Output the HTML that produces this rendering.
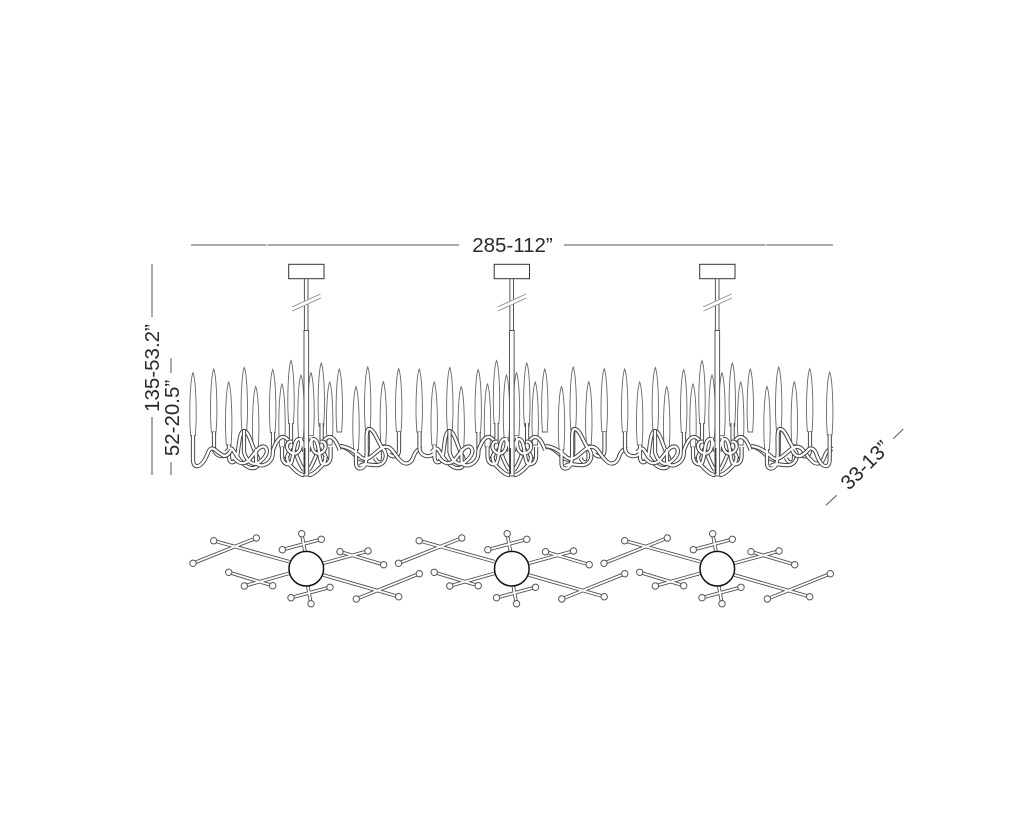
<!DOCTYPE html>
<html><head><meta charset="utf-8"><style>
html,body{margin:0;padding:0;background:#fff;width:1024px;height:819px;overflow:hidden}
svg{display:block}
text{font-family:"Liberation Sans",sans-serif;font-size:20.5px;fill:#2a2a2a}
</style></head><body>
<svg width="1024" height="819" viewBox="0 0 1024 819" xmlns="http://www.w3.org/2000/svg">
<defs>
<path id="fl" d="M0 0C-1.8 4-3.2 20-3.2 42C-3.2 52-2.6 58-2.400 63H2.400C2.600 58 3.200 52 3.200 42C3.200 20 1.800 4 0 0Z" fill="#fff" stroke="#666" stroke-width="0.9"/>

<path id="a" fill="none" d="M214 432V448C214 456 224 459 229 453M229 445V457C229 464 235 464 237 457C239 448 239 431 244 431C249 431 252 447 257 456C261 464 257 469 251 468C244 467 238 458 233 450C231 447 229 449 226 452"/>
<path id="b" fill="none" d="M244 430V452C246 460 252 466 258 463C264 459 270 452 265 447C259 444 254 455 248 461C243 465 238 463 234 458M256 449V460C256 466 262 467 268 463C273 459 273 455 273 448V432"/>
<path id="c" fill="none" d="M287 456C287 464 292 467 295 470C298 473 301 475 304 475M282 447V456C282 463 287 466 291 463C294 458 293 444 297 440C300 437 304 442 304 452M301 438V445C300 452 296 456 290 452C284 447 288 440 292 442"/>
<path id="d" fill="none" d="M273 450C276 442 279 437 283 437C288 437 292 446 296 454C299 462 302 468 304 470M291 423V440C291 450 287 458 284 462"/>
<path id="e" fill="none" d="M367.700 430V450C368 458 364 462 358 458C352 452 348 448 340 446M383 445V458C383 465 377 463 375 458M399 432V450C399 457 393 458 389 454"/>
<path id="f" fill="none" d="M356 449V463C356 470 362 470 365 465C369 456 364 429 369 429C375 429 378 444 384 450C388 456 385 464 378 465C370 466 365 462 360 466M340 446C350 447 356 453 362 458C370 462 376 450 384 447C392 445 394 455 400 460C404 465 410 465 413 458C415 452 417 449 422 449"/>

<g id="centerhalf">
<use href="#d" stroke="#404040" stroke-width="4.200"/><use href="#d" stroke="#fff" stroke-width="2.300"/>
<use href="#c" stroke="#404040" stroke-width="4.200"/><use href="#c" stroke="#fff" stroke-width="2.300"/>
</g>
<g id="tubes">
<use href="#e" stroke="#404040" stroke-width="4.200"/><use href="#e" stroke="#fff" stroke-width="2.300"/>
<use href="#f" stroke="#404040" stroke-width="4.200"/><use href="#f" stroke="#fff" stroke-width="2.300"/>
<use href="#a" stroke="#404040" stroke-width="4.200"/><use href="#a" stroke="#fff" stroke-width="2.300"/>
<use href="#b" stroke="#404040" stroke-width="4.200"/><use href="#b" stroke="#fff" stroke-width="2.300"/>
<use href="#centerhalf"/>
<use href="#centerhalf" transform="translate(612.600 0) scale(-1 1)"/>
</g>
<g id="flames">
<use href="#fl" x="213.700" y="369"/><use href="#fl" x="228.700" y="382"/><use href="#fl" x="244.300" y="367.500"/><use href="#fl" x="255.700" y="386.500"/><use href="#fl" x="272.700" y="369.500"/><use href="#fl" x="282" y="384"/><use href="#fl" x="291" y="360.500"/><use href="#fl" x="301" y="375"/><use href="#fl" x="311" y="372.700"/><use href="#fl" x="321.300" y="363"/><use href="#fl" x="329.700" y="382"/><use href="#fl" x="339.300" y="369"/><use href="#fl" x="356" y="386.500"/><use href="#fl" x="367.700" y="367"/><use href="#fl" x="383.300" y="381.700"/><use href="#fl" x="398.700" y="368.700"/>
</g>
<g id="stem">
<rect x="288.700" y="264.300" width="35.300" height="14.400" fill="#fff" stroke="#333" stroke-width="1"/>
<rect x="304.400" y="278.700" width="3.600" height="52" fill="#fff" stroke="#555" stroke-width="1"/>
<rect x="304" y="330.500" width="4.600" height="145.500" fill="#fff" stroke="#555" stroke-width="1"/>
<path d="M304.800 448V474" stroke="#333" stroke-width="1.200"/>
<path d="M292 306.500L320 293.500L321 298L293 311Z" fill="#fff"/>
<path d="M292 307L320.500 294M292.500 311L321 298" stroke="#888" stroke-width="0.900" fill="none"/>
</g>
<path id="arms" fill="none" d="M289.300 561.700L213.700 540.700M256.300 538L193 563.300M323.300 575L398.700 596.700M419.300 573.700L356.300 599M323.300 563.300L368 551M340 551.700L383.700 564.700M289.300 573.300L244.300 586M228.700 572.300L272.700 585.700M305 551.700L301.700 533.700M282.300 549.700L321.300 539.300M307.700 585.700L311 603.700M291 597.700L330 587.300"/>
<g id="top">
<use href="#arms" stroke="#505050" stroke-width="3.600"/>
<use href="#arms" stroke="#fff" stroke-width="1.800"/>
<g fill="#fff" stroke="#555" stroke-width="1">
<circle cx="213.700" cy="540.700" r="3.200"/><circle cx="256.300" cy="538" r="3.200"/><circle cx="193" cy="563.300" r="3.200"/><circle cx="398.700" cy="596.700" r="3.200"/><circle cx="419.300" cy="573.700" r="3.200"/><circle cx="356.300" cy="599" r="3.200"/><circle cx="368" cy="551" r="3.200"/><circle cx="340" cy="551.700" r="3.200"/><circle cx="383.700" cy="564.700" r="3.200"/><circle cx="244.300" cy="586" r="3.200"/><circle cx="228.700" cy="572.300" r="3.200"/><circle cx="272.700" cy="585.700" r="3.200"/><circle cx="301.700" cy="533.700" r="3.200"/><circle cx="282.300" cy="549.700" r="3.200"/><circle cx="321.300" cy="539.300" r="3.200"/><circle cx="311" cy="603.700" r="3.200"/><circle cx="291" cy="597.700" r="3.200"/><circle cx="330" cy="587.300" r="3.200"/>
</g>
<circle cx="306.300" cy="568.700" r="17.300" fill="#fff" stroke="#111" stroke-width="1.500"/>
</g>
<g id="unit"><use href="#flames"/><use href="#tubes"/><use href="#stem"/><use href="#top"/></g>
<path id="e1" fill="none" d="M193 435V459Q193 467 198 466Q203 465 208 453Q210 447 214 449Q220 454 224 456Q228 456 231 450"/>
<path id="e2" fill="none" d="M829.700 435V459Q829.500 467 825 466Q820 465 816 453Q813 447 809 449Q804 455 800 456Q795 457 792 450"/>
</defs>

<g stroke="#555" stroke-width="1" fill="none">
<path d="M191 245H459M564 245H833"/>
<path d="M152 264V317M152 417V475M171 358V373M171 462V475"/>
<path d="M826 505.300L836.700 495.300M893.300 438.700L903.300 429"/>
</g>
<path d="M267 243.500V246.500M766 243.500V246.500" stroke="#fff" stroke-width="1"/>

<use href="#fl" x="193" y="372.700"/>
<use href="#fl" x="829.700" y="372"/>
<use href="#unit"/>
<use href="#unit" x="205.500"/>
<use href="#unit" x="411"/>

<use href="#e1" stroke="#404040" stroke-width="4.200"/><use href="#e1" stroke="#fff" stroke-width="2.300"/>
<use href="#e2" stroke="#404040" stroke-width="4.200"/><use href="#e2" stroke="#fff" stroke-width="2.300"/>

<text x="512.500" y="252" text-anchor="middle">285-112”</text>
<text transform="translate(159 368) rotate(-90)" text-anchor="middle">135-53.2”</text>
<text transform="translate(179 418) rotate(-90)" text-anchor="middle">52-20.5”</text>
<text transform="translate(870 470) rotate(-45)" text-anchor="middle">33-13”</text>
</svg>
</body></html>
